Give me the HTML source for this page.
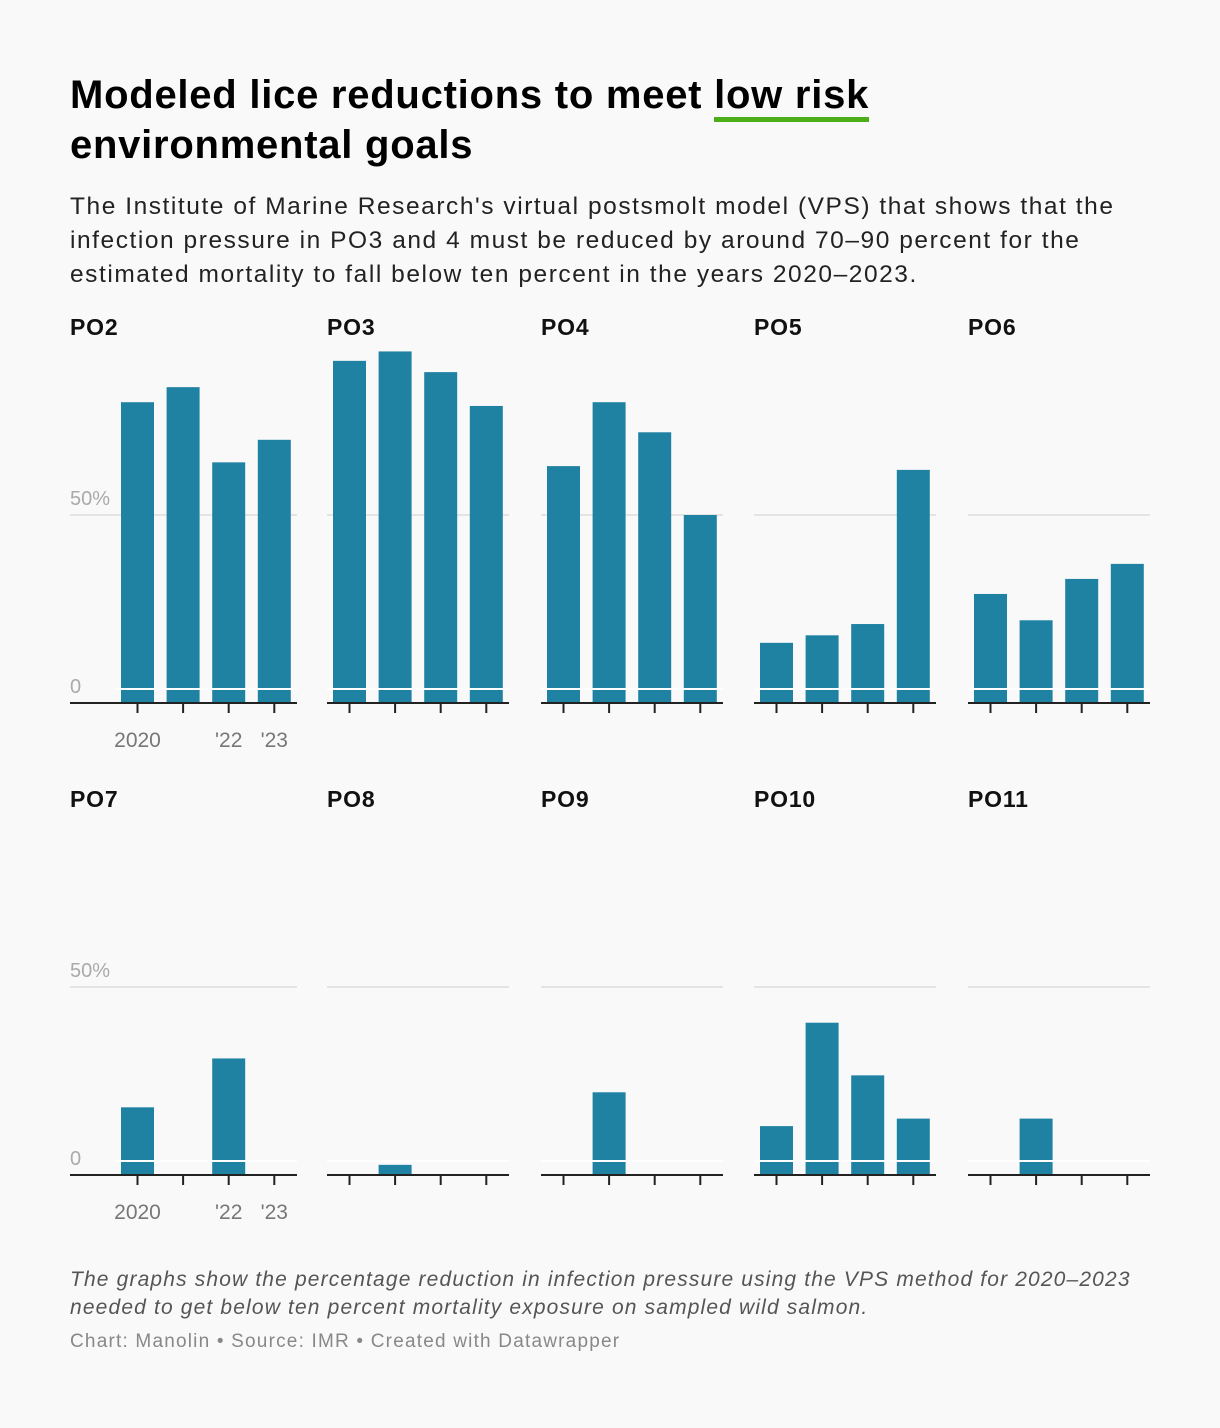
<!DOCTYPE html>
<html><head><meta charset="utf-8"><style>
body{margin:0;background:#f9f9f9;font-family:"Liberation Sans",sans-serif;}
#wrap{position:relative;width:1220px;height:1428px;}
h1{position:absolute;left:70px;top:70px;margin:0;font-size:40px;line-height:50px;font-weight:bold;color:#000;letter-spacing:0.75px;}
.u{border-bottom:5px solid #4caf1a;}
#sub{position:absolute;left:70px;top:190px;width:1070px;font-size:24.5px;line-height:34px;color:#222;letter-spacing:1.55px;}
#note{position:absolute;left:70px;top:1266px;font-size:21px;line-height:28px;font-style:italic;color:#555;letter-spacing:1.15px;white-space:nowrap;}
#src{position:absolute;left:70px;top:1331px;font-size:19px;color:#888;letter-spacing:1.2px;}
svg{position:absolute;left:0;top:0;}
</style></head><body><div id="wrap">
<h1>Modeled lice reductions to meet <span class="u">low risk</span><br>environmental goals</h1>
<div id="sub">The Institute of Marine Research's virtual postsmolt model (VPS) that shows that the infection pressure in PO3 and 4 must be reduced by around 70–90 percent for the estimated mortality to fall below ten percent in the years 2020–2023.</div>
<svg id="chart" width="1220" height="1428"></svg>
<div id="note">The graphs show the percentage reduction in infection pressure using the VPS method for 2020–2023<br>needed to get below ten percent mortality exposure on sampled wild salmon.</div>
<div id="src">Chart: Manolin • Source: IMR • Created with Datawrapper</div>
</div>
<script>
const regions=["PO2","PO3","PO4","PO5","PO6","PO7","PO8","PO9","PO10","PO11"];
const years=["2020","2021","2022","2023"];
const yearLabels=["2020","","'22","'23"];
const yTicks=[0,50];
const values=[
[80,84,64,70],
[91,93.5,88,79],
[63,80,72,50],
[16,18,21,62],
[29,22,33,37],
[18,0,31,0],
[0,2.7,0,0],
[0,22,0,0],
[13,40.5,26.5,15],
[0,15,0,0]
];
const NS="http://www.w3.org/2000/svg";
const svg=document.getElementById('chart');
function mk(t,a,p){const e=document.createElementNS(NS,t);for(const k in a)e.setAttribute(k,a[k]);(p||svg).appendChild(e);return e;}
const panelX=[115,327,541,754,968];
const plotW=182;
const rows=[{base:703,title:335},{base:1175,title:807}];
const pxPer=376/100;
function yS(v,base){return base-v*pxPer;}
function xS(i,x0){return x0+6+i*45.6;}
regions.forEach((r,k)=>{
  const row=rows[Math.floor(k/5)],col=k%5,x0=panelX[col],base=row.base;
  const g=mk('g',{});
  
  
  const tx=mk('text',{x:col==0?70:x0,y:row.title,'font-size':23,'font-weight':'bold',fill:'#111','font-family':'Liberation Sans','letter-spacing':0.8},g);
  tx.textContent=r;
  
  
  const left=col==0?70:x0;
  yTicks.forEach(t=>{
    if(t>0){const gl=mk('line',{x1:left,x2:x0+plotW,y1:yS(t,base),y2:yS(t,base),stroke:'#ddd','stroke-width':1.5},g);
      }
    if(col==0){const tl=mk('text',{x:70,y:yS(t,base)-10,'font-size':20,fill:'#aaa','font-family':'Liberation Sans'},g);
      tl.textContent=t==0?'0':t+'%';
      }
  });
  values[k].forEach((v,i)=>{
    const x=xS(i,x0);
    if(v>0){const b=mk('rect',{x:x,y:yS(v,base),width:33,height:v*pxPer,fill:'#1f82a3'},g);
      
      }
    const tk=mk('line',{x1:x+16.5,x2:x+16.5,y1:base,y2:base+10,stroke:'#222','stroke-width':2},g);
    
    if(col==0&&yearLabels[i]){const l=mk('text',{x:x+16.5,y:base+44,'font-size':21,fill:'#777','text-anchor':'middle','font-family':'Liberation Sans'},g);
      l.textContent=yearLabels[i];
      }
  });
  const zl=mk('line',{x1:x0,x2:x0+plotW,y1:base-14,y2:base-14,stroke:'#fff','stroke-width':2},g);
  
  const ax=mk('line',{x1:left,x2:x0+plotW,y1:base,y2:base,stroke:'#222','stroke-width':2},g);
  
});
</script></body></html>
